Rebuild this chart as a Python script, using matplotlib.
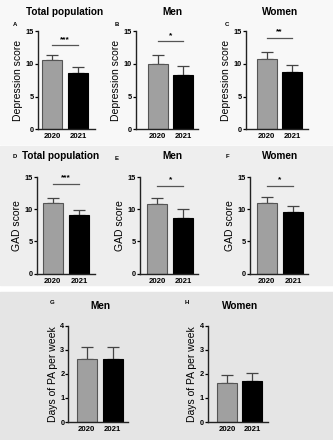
import matplotlib.pyplot as plt
from matplotlib.patches import Rectangle

plt.rcParams["font.family"] = ["Liberation Sans", "DejaVu Sans"]
plt.rcParams["font.weight"] = "bold"

# ---------------- data ----------------
years = ["2020", "2021"]

dep_total = [10.5, 8.6]
dep_total_err = [0.8, 0.85]
dep_men = [10.0, 8.3]
dep_men_err = [1.4, 1.3]
dep_women = [10.75, 8.7]
dep_women_err = [1.1, 1.05]

gad_total = [10.9, 9.07]
gad_total_err = [0.8, 0.8]
gad_men = [10.75, 8.6]
gad_men_err = [1.05, 1.4]
gad_women = [10.95, 9.5]
gad_women_err = [1.0, 1.0]

pa_men = [2.6, 2.6]
pa_men_err = [0.5, 0.5]
pa_women = [1.62, 1.70]
pa_women_err = [0.32, 0.33]

sig_labels = ["***", "*", "**", "***", "*", "*"]
sig_heights = [12.8, 13.4, 14.0, 13.9, 13.6, 13.6]

W, H = 333, 440
fig = plt.figure(figsize=(W / 100, H / 100), dpi=100)
fig.patch.set_facecolor("white")

# background bands (pixel rows)
for y0, y1, col in [(0, 144, "#f8f8f8"), (146, 285, "#eeeeee"), (292, 440, "#e5e5e5")]:
    fig.patches.append(Rectangle((0, 1 - y1 / H), 1, (y1 - y0) / H,
                                 transform=fig.transFigure, color=col, zorder=-10))


def fx(x):
    return x / W


def fy(y):
    return 1 - y / H


def panel(box, ylim, yticks, vals, errs, ylabel, sig=None, sig_y=None):
    # box = (axis left px, axis right px, top px, bottom px, center bar0 px, center bar1 px)
    left, right, top, bottom, c0, c1 = box
    ax = fig.add_axes([fx(left), fy(bottom), fx(right - left), (bottom - top) / H])
    ax.set_facecolor("none")
    step = c1 - c0
    ax.set_xlim(-(c0 - left) / step, 1 + (right - c1) / step)
    ax.set_ylim(*ylim)
    bw = 20 / step
    ax.bar([0, 1], vals, width=bw, color=["#a0a0a0", "black"],
           edgecolor=["#555555", "black"], linewidth=0.8, zorder=2)
    ax.errorbar([0, 1], vals, yerr=[[0, 0], errs], fmt="none",
                ecolor="#444444", elinewidth=0.9, capsize=4.3, capthick=0.9, zorder=1)
    for s in ["top", "right"]:
        ax.spines[s].set_visible(False)
    for s in ["left", "bottom"]:
        ax.spines[s].set_linewidth(1.0)
        ax.spines[s].set_color("#222222")
    ax.set_yticks(yticks)
    ax.set_xticks([0, 1])
    ax.set_xticklabels(years)
    ax.tick_params(axis="x", length=0, labelsize=5.6, pad=3)
    ax.tick_params(axis="y", length=2, width=0.9, labelsize=5.3, pad=0.8)
    ax.set_ylabel(ylabel, fontsize=7.5, labelpad=2)
    if sig is not None:
        ax.plot([0, 1], [sig_y, sig_y], color="#555555", lw=0.9)
        ax.text(0.5, sig_y + (ylim[1] - ylim[0]) * 0.025, sig, ha="center",
                va="bottom", fontsize=6)
    return ax


row1 = [(37.7, 95, 31, 129.3, 52.3, 78.3),
        (135.7, 198, 31, 129.3, 157.7, 183.3),
        (245.7, 308, 31, 129.3, 266.7, 292.3)]
row2 = [(36.7, 95, 177, 273.7, 52.7, 79),
        (140, 198, 177, 273.7, 157.3, 183.3),
        (250, 308, 177, 273.7, 266.7, 293.3)]
row3 = [(68.3, 127.7, 325.7, 422, 86.7, 112.7),
        (208, 268, 325.7, 422, 227, 252)]

dep = [(dep_total, dep_total_err), (dep_men, dep_men_err), (dep_women, dep_women_err)]
gad = [(gad_total, gad_total_err), (gad_men, gad_men_err), (gad_women, gad_women_err)]

for i, (box, (v, e)) in enumerate(zip(row1, dep)):
    panel(box, (0, 15), [0, 5, 10, 15], v, e, "Depression score",
          sig_labels[i], sig_heights[i])
for i, (box, (v, e)) in enumerate(zip(row2, gad)):
    panel(box, (0, 15), [0, 5, 10, 15], v, e, "GAD score",
          sig_labels[3 + i], sig_heights[3 + i])
panel(row3[0], (0, 4), [0, 1, 2, 3, 4], pa_men, pa_men_err, "Days of PA per week")
panel(row3[1], (0, 4), [0, 1, 2, 3, 4], pa_women, pa_women_err, "Days of PA per week")

# titles
titles = [("Total population", 65, 12), ("Men", 172, 12), ("Women", 280, 12),
          ("Total population", 61, 156), ("Men", 172, 156), ("Women", 280, 156),
          ("Men", 100, 306), ("Women", 240, 306)]
for t, x, y in titles:
    fig.text(fx(x), fy(y), t, ha="center", va="center", fontsize=7.2)

letters = [("A", 15, 25), ("B", 117, 25), ("C", 227, 25),
           ("D", 15, 157), ("E", 117, 158), ("F", 227, 157),
           ("G", 52, 303), ("H", 187, 303)]
for t, x, y in letters:
    fig.text(fx(x), fy(y), t, ha="center", va="center", fontsize=4.3)

fig.savefig("out.png", dpi=100)
